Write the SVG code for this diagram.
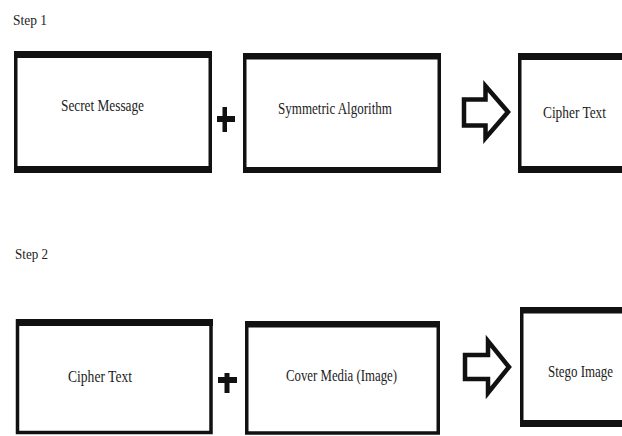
<svg xmlns="http://www.w3.org/2000/svg" width="622" height="436" viewBox="0 0 622 436">
<style>
  .frame { fill: #ffffff; stroke: #111111; stroke-width: 3.5; }
  .band { fill: #111111; }
  .lbl { font-family: "Liberation Serif", "Times New Roman", serif; font-size: 16px; fill: #1c1c1c; }
  .step { font-family: "Liberation Serif", "Times New Roman", serif; font-size: 15px; fill: #1c1c1c; }
  .arrow { fill: #ffffff; stroke: #111111; stroke-width: 4.5; stroke-linejoin: miter; }
  .plus { fill: #111111; }
</style>
<rect width="622" height="436" fill="#ffffff"/>

<text class="step" x="13" y="25" textLength="34" lengthAdjust="spacingAndGlyphs">Step 1</text>
<text class="step" x="15" y="259" textLength="33" lengthAdjust="spacingAndGlyphs">Step 2</text>

<g id="secret-message">
  <rect class="frame" x="15.75" y="53" width="194.5" height="118"/>
  <rect class="band" x="14" y="51" width="198" height="7"/>
  <rect class="band" x="14" y="166" width="198" height="7"/>
  <text class="lbl" x="61" y="111" textLength="83" lengthAdjust="spacingAndGlyphs">Secret Message</text>
</g>

<g id="symmetric-algorithm">
  <rect class="frame" x="244.75" y="55" width="194.5" height="116"/>
  <rect class="band" x="243" y="53" width="198" height="6.5"/>
  <rect class="band" x="243" y="167" width="198" height="6"/>
  <text class="lbl" x="278" y="114" textLength="114" lengthAdjust="spacingAndGlyphs">Symmetric Algorithm</text>
</g>

<g id="cipher-text-1">
  <rect class="frame" x="519.75" y="55" width="120" height="116"/>
  <rect class="band" x="518" y="53" width="110" height="7"/>
  <rect class="band" x="518" y="166" width="110" height="7"/>
  <text class="lbl" x="543" y="118" textLength="63" lengthAdjust="spacingAndGlyphs">Cipher Text</text>
</g>

<g id="cipher-text-2">
  <rect class="frame" x="17.5" y="321" width="193.5" height="111.5"/>
  <rect class="band" x="16" y="319" width="197" height="7"/>
  <text class="lbl" x="68" y="382" textLength="64" lengthAdjust="spacingAndGlyphs">Cipher Text</text>
</g>

<g id="cover-media">
  <rect class="frame" x="246.75" y="323" width="191.5" height="110"/>
  <rect class="band" x="245" y="321" width="195" height="6.5"/>
  <text class="lbl" x="286" y="381" textLength="111" lengthAdjust="spacingAndGlyphs">Cover Media (Image)</text>
</g>

<g id="stego-image">
  <rect class="frame" x="521.75" y="309" width="120" height="116"/>
  <rect class="band" x="520" y="307" width="110" height="6.5"/>
  <rect class="band" x="520" y="420" width="110" height="7"/>
  <text class="lbl" x="548" y="377" textLength="65" lengthAdjust="spacingAndGlyphs">Stego Image</text>
</g>

<g id="connectors">
  <path class="plus" d="M222.5 107h4.5v25h-4.5z M217 116h18v6h-18z"/>
  <polygon class="arrow" points="464,99.5 485.5,99.5 485.5,86 508,112 485.5,138 485.5,125.5 464,125.5"/>
  <path class="plus" d="M224.5 373h5v20h-5z M218 377h19v6h-19z"/>
  <polygon class="arrow" points="465,355 488,355 488,341 509,367 488,393 488,379 465,379"/>
</g>
</svg>
